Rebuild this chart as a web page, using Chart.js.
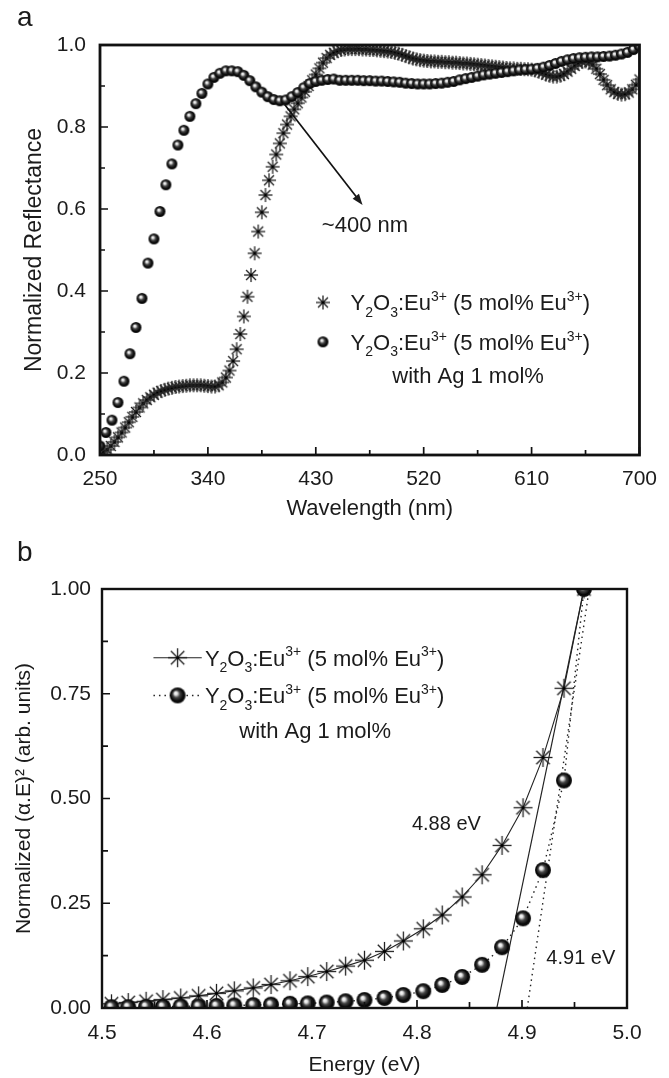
<!DOCTYPE html>
<html>
<head>
<meta charset="utf-8">
<script src="https://cdn.jsdelivr.net/npm/chart.js@4.4.1/dist/chart.umd.min.js"></script>
<style>
  html, body { margin: 0; padding: 0; background: #fff; }
  canvas { display: block; }
</style>
</head>
<body>
<canvas id="reflect" width="669" height="530"></canvas>
<canvas id="tauc" width="669" height="548"></canvas>
<script>
const FONT = "'Liberation Sans', Arial, Helvetica, sans-serif";
const INK = "#1b1b1b";

// ---- (a) diffuse reflectance ----
const wlPure = [
  250, 253, 256, 259, 262, 265, 268, 271, 274, 277,
  280, 283, 286, 289, 292, 295, 298, 301, 304, 307,
  310, 313, 316, 319, 322, 325, 328, 331, 334, 337,
  340, 343, 346, 349, 352, 355, 358, 361, 364, 367,
  370, 373, 376, 379, 382, 385, 388, 391, 394, 397,
  400, 403, 406, 409, 412, 415, 418, 421, 424, 427,
  430, 433, 436, 439, 442, 445, 448, 451, 454, 457,
  460, 463, 466, 469, 472, 475, 478, 481, 484, 487,
  490, 493, 496, 499, 502, 505, 508, 511, 514, 517,
  520, 523, 526, 529, 532, 535, 538, 541, 544, 547,
  550, 553, 556, 559, 562, 565, 568, 571, 574, 577,
  580, 583, 586, 589, 592, 595, 598, 601, 604, 607,
  610, 613, 616, 619, 622, 625, 628, 631, 634, 637,
  640, 643, 646, 649, 652, 655, 658, 661, 664, 667,
  670, 673, 676, 679, 682, 685, 688, 691, 694, 697,
  700
];
const reflPure = [
  0.000, 0.006, 0.013, 0.022, 0.032, 0.043, 0.055, 0.067, 0.080, 0.093,
  0.105, 0.116, 0.126, 0.134, 0.141, 0.147, 0.152, 0.156, 0.159, 0.162,
  0.164, 0.166, 0.167, 0.168, 0.169, 0.170, 0.170, 0.170, 0.170, 0.169,
  0.168, 0.167, 0.167, 0.170, 0.177, 0.189, 0.206, 0.229, 0.258, 0.295,
  0.338, 0.386, 0.439, 0.492, 0.545, 0.592, 0.634, 0.670, 0.703, 0.733,
  0.760, 0.785, 0.806, 0.826, 0.843, 0.858, 0.872, 0.886, 0.900, 0.914,
  0.928, 0.943, 0.957, 0.968, 0.976, 0.981, 0.985, 0.988, 0.989, 0.990,
  0.990, 0.990, 0.990, 0.989, 0.989, 0.988, 0.988, 0.987, 0.986, 0.985,
  0.984, 0.983, 0.981, 0.979, 0.976, 0.973, 0.970, 0.967, 0.965, 0.963,
  0.962, 0.961, 0.960, 0.960, 0.959, 0.959, 0.958, 0.958, 0.957, 0.957,
  0.956, 0.955, 0.955, 0.954, 0.953, 0.952, 0.951, 0.950, 0.949, 0.948,
  0.947, 0.946, 0.945, 0.944, 0.943, 0.943, 0.942, 0.942, 0.941, 0.941,
  0.940, 0.938, 0.935, 0.932, 0.928, 0.925, 0.923, 0.923, 0.925, 0.929,
  0.935, 0.942, 0.949, 0.955, 0.959, 0.960, 0.958, 0.952, 0.942, 0.929,
  0.915, 0.902, 0.892, 0.885, 0.881, 0.879, 0.880, 0.884, 0.892, 0.903,
  0.916
];
const wlAg = [
  250, 255, 260, 265, 270, 275, 280, 285, 290, 295,
  300, 305, 310, 315, 320, 325, 330, 335, 340, 345,
  350, 355, 360, 365, 370, 375, 380, 385, 390, 395,
  400, 405, 410, 415, 420, 425, 430, 435, 440, 445,
  450, 455, 460, 465, 470, 475, 480, 485, 490, 495,
  500, 505, 510, 515, 520, 525, 530, 535, 540, 545,
  550, 555, 560, 565, 570, 575, 580, 585, 590, 595,
  600, 605, 610, 615, 620, 625, 630, 635, 640, 645,
  650, 655, 660, 665, 670, 675, 680, 685, 690, 695,
  700
];
const reflAg = [
  0.022, 0.055, 0.085, 0.128, 0.180, 0.247, 0.311, 0.382, 0.468, 0.527,
  0.594, 0.659, 0.710, 0.756, 0.792, 0.826, 0.857, 0.882, 0.905, 0.921,
  0.931, 0.937, 0.937, 0.935, 0.926, 0.913, 0.898, 0.885, 0.874, 0.867,
  0.864, 0.866, 0.874, 0.884, 0.896, 0.906, 0.911, 0.914, 0.916, 0.917,
  0.914, 0.914, 0.914, 0.914, 0.913, 0.913, 0.912, 0.912, 0.911, 0.910,
  0.909, 0.907, 0.906, 0.905, 0.905, 0.905, 0.906, 0.907, 0.909, 0.911,
  0.915, 0.918, 0.921, 0.924, 0.927, 0.929, 0.931, 0.933, 0.935, 0.937,
  0.939, 0.940, 0.941, 0.943, 0.946, 0.950, 0.955, 0.960, 0.964, 0.967,
  0.969, 0.970, 0.971, 0.971, 0.972, 0.973, 0.975, 0.978, 0.982, 0.989,
  0.997
];
const wlTicks = [250, 340, 430, 520, 610, 700];
const wlMinor = [295, 385, 475, 565, 655];
const reflTicks = [0, 0.2, 0.4, 0.6, 0.8, 1.0];
const reflMinor = [0.1, 0.3, 0.5, 0.7, 0.9];

// ---- (b) (alpha.E)^2 against photon energy ----
const energy = [
  4.509, 4.525, 4.542, 4.558, 4.575, 4.592, 4.609, 4.626, 4.644, 4.661,
  4.679, 4.696, 4.714, 4.732, 4.750, 4.769, 4.787, 4.806, 4.824, 4.843,
  4.862, 4.881, 4.901, 4.920, 4.940, 4.959
];
const taucPure = [
  0.010, 0.013, 0.016, 0.020, 0.024, 0.029, 0.035, 0.041, 0.048, 0.056,
  0.065, 0.075, 0.087, 0.100, 0.114, 0.135, 0.160, 0.189, 0.222, 0.265,
  0.318, 0.388, 0.478, 0.598, 0.763, 1.000
];
const taucAg = [
  0.002, 0.002, 0.003, 0.003, 0.004, 0.004, 0.005, 0.006, 0.007, 0.008,
  0.010, 0.011, 0.013, 0.016, 0.019, 0.024, 0.031, 0.040, 0.055, 0.074,
  0.103, 0.145, 0.214, 0.329, 0.543, 1.000
];
// linear extrapolations to the energy axis
const fitPureE = [4.876, 4.959];
const fitAgE = [4.905, 4.964];
const fitY = [0, 1];
const eTicks = [4.5, 4.6, 4.7, 4.8, 4.9, 5.0];
const eMinor = [4.55, 4.65, 4.75, 4.85, 4.95];
const taucTicks = [0, 0.25, 0.5, 0.75, 1.0];
const taucMinor = [0.125, 0.375, 0.625, 0.875];

const sampleLabel = [
  { t: "Y" }, { t: "2", s: "sub" }, { t: "O" }, { t: "3", s: "sub" },
  { t: ":Eu" }, { t: "3+", s: "sup" }, { t: " (5 mol% Eu" }, { t: "3+", s: "sup" }, { t: ")" }
];
const agLine = "with Ag 1 mol%";

// marker images
function starMarker(r, lw) {
  const s = Math.ceil(r * 2 + 4);
  const c = document.createElement("canvas");
  c.width = s; c.height = s;
  const g = c.getContext("2d");
  const m = s / 2;
  g.strokeStyle = "#222";
  g.lineWidth = lw;
  for (let k = 0; k < 4; k++) {
    const a = k * Math.PI / 4;
    g.beginPath();
    g.moveTo(m - r * Math.cos(a), m - r * Math.sin(a));
    g.lineTo(m + r * Math.cos(a), m + r * Math.sin(a));
    g.stroke();
  }
  g.fillStyle = "#000";
  g.beginPath();
  g.arc(m, m, lw * 1.2, 0, Math.PI * 2);
  g.fill();
  return c;
}

function sphereMarker(r) {
  const s = Math.ceil(r * 2 + 2);
  const c = document.createElement("canvas");
  c.width = s; c.height = s;
  const g = c.getContext("2d");
  const m = s / 2;
  const grad = g.createRadialGradient(m - r * 0.28, m - r * 0.32, 0, m, m, r);
  grad.addColorStop(0, "#ffffff");
  grad.addColorStop(0.2, "#e4e4e4");
  grad.addColorStop(0.45, "#454545");
  grad.addColorStop(0.8, "#050505");
  grad.addColorStop(1, "#1c1c1c");
  g.fillStyle = grad;
  g.beginPath();
  g.arc(m, m, r, 0, Math.PI * 2);
  g.fill();
  return c;
}

// text with sub/superscripts, baseline at y
function drawRich(ctx, x, y, parts, size) {
  const small = Math.round(size * 0.62);
  ctx.textAlign = "left";
  ctx.textBaseline = "alphabetic";
  let cx = x;
  parts.forEach(p => {
    ctx.font = (p.s ? small : size) + "px " + FONT;
    const dy = p.s === "sub" ? size * 0.3 : p.s === "sup" ? -size * 0.42 : 0;
    ctx.fillText(p.t, cx, y + dy);
    cx += ctx.measureText(p.t).width;
  });
}

function drawText(ctx, txt, x, y, size, align) {
  ctx.font = size + "px " + FONT;
  ctx.textAlign = align || "center";
  ctx.textBaseline = "middle";
  ctx.fillText(txt, x, y);
}

// box around the plot with inward ticks
const framePlugin = {
  id: "frame",
  afterDatasetsDraw(chart, args, opts) {
    const { ctx, chartArea: a, scales: { x, y } } = chart;
    ctx.save();
    ctx.strokeStyle = "#111";
    ctx.lineWidth = 1.7;
    ctx.beginPath();
    opts.xMajor.forEach(v => { const px = x.getPixelForValue(v); ctx.moveTo(px, a.bottom); ctx.lineTo(px, a.bottom - opts.major); });
    opts.xMinor.forEach(v => { const px = x.getPixelForValue(v); ctx.moveTo(px, a.bottom); ctx.lineTo(px, a.bottom - opts.minor); });
    opts.yMajor.forEach(v => { const py = y.getPixelForValue(v); ctx.moveTo(a.left, py); ctx.lineTo(a.left + opts.major, py); });
    opts.yMinor.forEach(v => { const py = y.getPixelForValue(v); ctx.moveTo(a.left, py); ctx.lineTo(a.left + opts.minor, py); });
    ctx.stroke();
    ctx.lineWidth = opts.width;
    ctx.strokeRect(a.left, a.top, a.right - a.left, a.bottom - a.top);
    ctx.restore();
  }
};

function font(size) { return { family: FONT, size: size }; }

// ---------- panel a ----------
const starA = starMarker(7, 1.3);
const sphereA = sphereMarker(5.5);

const reflectNotes = {
  id: "reflectNotes",
  afterDraw(chart) {
    const { ctx, scales: { x, y } } = chart;
    ctx.save();
    ctx.fillStyle = INK;
    drawText(ctx, "a", 17, 18, 28, "left");
    // arrow to the absorption edge
    const x0 = x.getPixelForValue(404), y0 = y.getPixelForValue(0.855);
    const x1 = x.getPixelForValue(469), y1 = y.getPixelForValue(0.61);
    const ang = Math.atan2(y1 - y0, x1 - x0);
    ctx.strokeStyle = "#111";
    ctx.lineWidth = 1.7;
    ctx.beginPath();
    ctx.moveTo(x0, y0);
    ctx.lineTo(x1 - 8 * Math.cos(ang), y1 - 8 * Math.sin(ang));
    ctx.stroke();
    ctx.beginPath();
    ctx.moveTo(x1, y1);
    ctx.lineTo(x1 - 11 * Math.cos(ang) + 4 * Math.sin(ang), y1 - 11 * Math.sin(ang) - 4 * Math.cos(ang));
    ctx.lineTo(x1 - 11 * Math.cos(ang) - 4 * Math.sin(ang), y1 - 11 * Math.sin(ang) + 4 * Math.cos(ang));
    ctx.closePath();
    ctx.fill();
    drawText(ctx, "~400 nm", x.getPixelForValue(471), y.getPixelForValue(0.558), 22);
    // legend
    const r1 = y.getPixelForValue(0.372), r2 = y.getPixelForValue(0.276);
    const mx = x.getPixelForValue(436);
    ctx.drawImage(starA, mx - starA.width / 2, r1 - starA.height / 2);
    ctx.drawImage(sphereA, mx - sphereA.width / 2, r2 - sphereA.height / 2);
    const tx = x.getPixelForValue(459);
    drawRich(ctx, tx, r1 + 8, sampleLabel, 22);
    drawRich(ctx, tx, r2 + 8, sampleLabel, 22);
    drawText(ctx, agLine, x.getPixelForValue(557), y.getPixelForValue(0.191), 22);
    ctx.restore();
  }
};

new Chart(document.getElementById("reflect"), {
  type: "scatter",
  data: {
    datasets: [
      {
        label: "Y2O3:Eu3+ (5 mol% Eu3+)",
        data: wlPure.map((w, i) => ({ x: w, y: reflPure[i] })),
        pointStyle: starA, pointRadius: 7, showLine: false, clip: 0, order: 1
      },
      {
        label: "Y2O3:Eu3+ (5 mol% Eu3+) with Ag 1 mol%",
        data: wlAg.map((w, i) => ({ x: w, y: reflAg[i] })),
        pointStyle: sphereA, pointRadius: 5.5, showLine: false, clip: 0, order: 0
      }
    ]
  },
  options: {
    responsive: false,
    devicePixelRatio: 1,
    animation: false,
    events: [],
    layout: { padding: { top: 45, right: 20, left: 0, bottom: 0 } },
    plugins: {
      legend: { display: false },
      tooltip: { enabled: false },
      frame: { xMajor: wlTicks, xMinor: wlMinor, yMajor: reflTicks, yMinor: reflMinor, major: 8, minor: 5, width: 2.8 }
    },
    scales: {
      x: {
        type: "linear", min: 250, max: 700,
        grid: { display: false, drawTicks: false }, border: { display: false },
        afterBuildTicks: s => { s.ticks = wlTicks.map(v => ({ value: v })); },
        afterFit: s => { s.height = 75; },
        ticks: { font: font(21), color: INK, padding: 12, maxRotation: 0, autoSkip: false },
        title: { display: true, text: "Wavelength (nm)", font: font(22), color: INK, padding: { top: 0, bottom: 8 } }
      },
      y: {
        type: "linear", min: 0, max: 1,
        grid: { display: false, drawTicks: false }, border: { display: false },
        afterBuildTicks: s => { s.ticks = reflTicks.map(v => ({ value: v })); },
        afterFit: s => { s.width = 100; },
        ticks: { font: font(21), color: INK, padding: 14, callback: v => v.toFixed(1) },
        title: { display: true, text: "Normalized Reflectance", font: font(23), color: INK, padding: { top: 21, bottom: 0 } }
      }
    }
  },
  plugins: [framePlugin, reflectNotes]
});

// ---------- panel b ----------
const starB = starMarker(9.5, 1.3);
const sphereB = sphereMarker(8);

const taucNotes = {
  id: "taucNotes",
  afterDraw(chart) {
    const { ctx, scales: { x, y } } = chart;
    ctx.save();
    ctx.fillStyle = INK;
    drawText(ctx, "b", 17, 23, 28, "left");
    drawText(ctx, "4.88 eV", x.getPixelForValue(4.828), y.getPixelForValue(0.437), 20);
    drawText(ctx, "4.91 eV", x.getPixelForValue(4.956), y.getPixelForValue(0.119), 20);
    // legend
    const r1 = y.getPixelForValue(0.836), r2 = y.getPixelForValue(0.746);
    const lx0 = x.getPixelForValue(4.549), lx1 = x.getPixelForValue(4.595);
    const mx = x.getPixelForValue(4.572);
    ctx.strokeStyle = "#222";
    ctx.lineWidth = 1.1;
    ctx.beginPath();
    ctx.moveTo(lx0, r1); ctx.lineTo(lx1, r1);
    ctx.stroke();
    ctx.setLineDash([1.5, 4]);
    ctx.lineWidth = 1.4;
    ctx.beginPath();
    ctx.moveTo(lx0, r2); ctx.lineTo(lx1, r2);
    ctx.stroke();
    ctx.setLineDash([]);
    ctx.drawImage(starB, mx - starB.width / 2, r1 - starB.height / 2);
    ctx.drawImage(sphereB, mx - sphereB.width / 2, r2 - sphereB.height / 2);
    const tx = x.getPixelForValue(4.598);
    drawRich(ctx, tx, r1 + 8, sampleLabel, 22);
    drawRich(ctx, tx, r2 + 8, sampleLabel, 22);
    drawText(ctx, agLine, x.getPixelForValue(4.703), y.getPixelForValue(0.659), 22);
    ctx.restore();
  }
};

new Chart(document.getElementById("tauc"), {
  type: "scatter",
  data: {
    datasets: [
      {
        label: "fit 4.88 eV",
        data: fitPureE.map((e, i) => ({ x: e, y: fitY[i] })),
        showLine: true, pointRadius: 0, borderColor: "#222", borderWidth: 1.2, clip: 0, order: 3
      },
      {
        label: "fit 4.91 eV",
        data: fitAgE.map((e, i) => ({ x: e, y: fitY[i] })),
        showLine: true, pointRadius: 0, borderColor: "#222", borderWidth: 1.4, borderDash: [1.5, 4], clip: 0, order: 3
      },
      {
        label: "Y2O3:Eu3+ (5 mol% Eu3+)",
        data: energy.map((e, i) => ({ x: e, y: taucPure[i] })),
        showLine: true, borderColor: "#222", borderWidth: 1.1,
        pointStyle: starB, pointRadius: 9.5, clip: 0, order: 1
      },
      {
        label: "Y2O3:Eu3+ (5 mol% Eu3+) with Ag 1 mol%",
        data: energy.map((e, i) => ({ x: e, y: taucAg[i] })),
        showLine: true, borderColor: "#222", borderWidth: 1.4, borderDash: [1.5, 4],
        pointStyle: sphereB, pointRadius: 8, clip: 0, order: 0
      }
    ]
  },
  options: {
    responsive: false,
    devicePixelRatio: 1,
    animation: false,
    events: [],
    layout: { padding: { top: 59, right: 42, left: 0, bottom: 0 } },
    plugins: {
      legend: { display: false },
      tooltip: { enabled: false },
      frame: { xMajor: eTicks, xMinor: eMinor, yMajor: taucTicks, yMinor: taucMinor, major: 8, minor: 6, width: 2.4 }
    },
    scales: {
      x: {
        type: "linear", min: 4.5, max: 5.0,
        grid: { display: false, drawTicks: false }, border: { display: false },
        afterBuildTicks: s => { s.ticks = eTicks.map(v => ({ value: v })); },
        afterFit: s => { s.height = 70; },
        ticks: { font: font(21), color: INK, padding: 13, maxRotation: 0, autoSkip: false, callback: v => v.toFixed(1) },
        title: { display: true, text: "Energy (eV)", font: font(21), color: INK, padding: { top: 0, bottom: 0 } }
      },
      y: {
        type: "linear", min: 0, max: 1,
        grid: { display: false, drawTicks: false }, border: { display: false },
        afterBuildTicks: s => { s.ticks = taucTicks.map(v => ({ value: v })); },
        afterFit: s => { s.width = 102; },
        ticks: { font: font(21), color: INK, padding: 11, callback: v => v.toFixed(2) },
        title: { display: true, text: "Normalized (\u03b1.E)\u00b2 (arb. units)", font: font(21), color: INK, padding: { top: 12, bottom: 0 } }
      }
    }
  },
  plugins: [framePlugin, taucNotes]
});
</script>
</body>
</html>
